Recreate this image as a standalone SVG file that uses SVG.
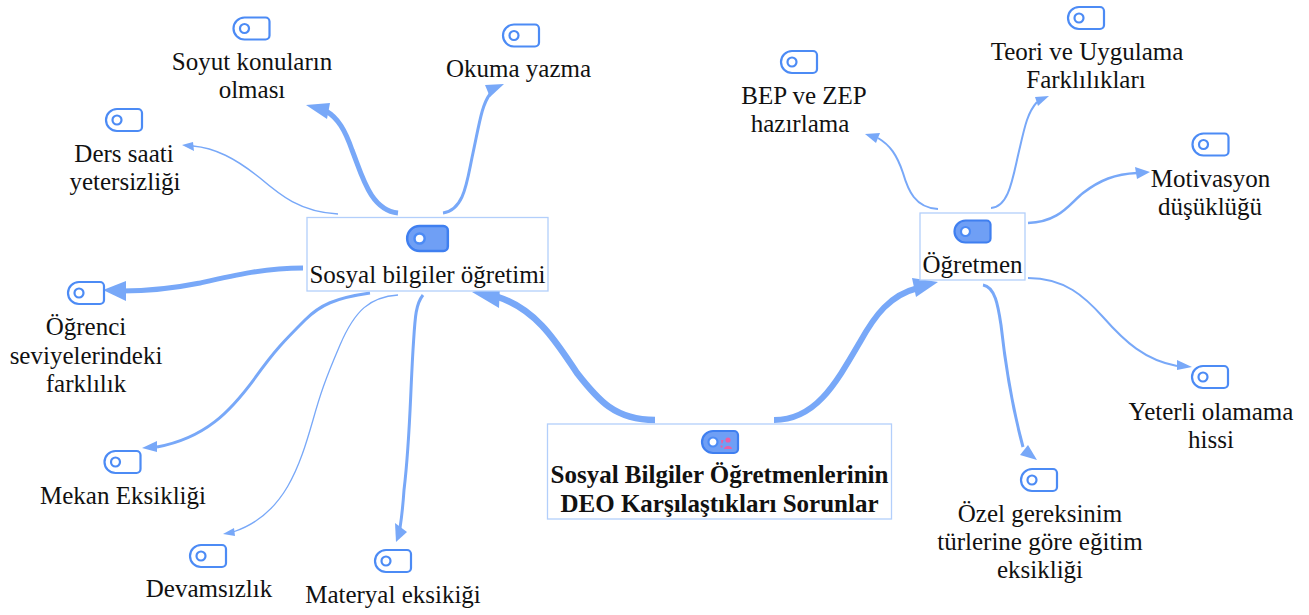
<svg xmlns="http://www.w3.org/2000/svg" width="1309" height="615" viewBox="0 0 1309 615">
<style>
text{font-family:"Liberation Serif","Times New Roman",serif;font-size:25px;fill:#111;text-anchor:middle}
.b{font-weight:700}
.box{fill:#fff;stroke:#b3cffb;stroke-width:1.3}
.c{fill:none;stroke:#78a8f8;stroke-linecap:butt}
.a{fill:#78a8f8}
.t{fill:#fff;stroke:#4c8bf5;stroke-width:2.2}
.tf{fill:#6f9ff5;stroke:#3f7ff0;stroke-width:2.2}
.h{fill:#fff;stroke:#4c8bf5;stroke-width:2.2}
.p{fill:#ec5fa5}
</style>
<defs>
<g id="tag"><path class="t" d="M-7-11H14a4 4 0 0 1 4 4V7a4 4 0 0 1-4 4H-7a11 11 0 0 1 0-22Z"/><circle class="h" cx="-7" cy="0" r="4.500"/></g>
<g id="tagf"><path class="tf" d="M-7-11H14a4 4 0 0 1 4 4V7a4 4 0 0 1-4 4H-7a11 11 0 0 1 0-22Z"/><circle class="h" stroke-width="1.5" cx="-7" cy="0" r="4.500"/></g>
</defs>
<g id="connectors">
<path class="c" stroke-width="6.500" d="M655 420C615 420 598 400 577 373C558 345 538 310 498 297"/><path class="a" d="M472 292L500 285L499 308Z"/>
<path class="c" stroke-width="6" d="M774 420C815 420 835 385 860 342C875 315 890 295 918 288"/><path class="a" d="M938 282L912 278L916 297Z"/>
<path class="c" stroke-width="5" d="M398 213C370 210 362 175 352 150C345 130 338 118 326 111"/><path class="a" d="M306 105L330 103L327 119Z"/>
<path class="c" stroke-width="3" d="M443 213C465 210 467 180 473 153C480 120 482 105 490 94"/><path class="a" d="M504 84L485 85L490 97Z"/>
<path class="c" stroke-width="1.500" d="M338 214C300 212 280 195 260 178C235 158 215 148 193 146"/><path class="a" d="M182 145L193 142L194 151Z"/>
<path class="c" stroke-width="5" d="M303 268C265 268 235 275 200 283C170 289 145 291 122 291"/><path class="a" d="M103 290L126 281L126 301Z"/>
<path class="c" stroke-width="3" d="M370 293C335 298 320 305 305 320C285 340 275 350 255 378C230 412 205 438 157 447"/><path class="a" d="M142 448L157 441L157 452Z"/>
<path class="c" stroke-width="1.300" d="M398 295C370 297 355 310 340 345C325 380 320 395 313 420C300 465 285 515 233 532"/><path class="a" d="M223 534L234 528L235 536Z"/>
<path class="c" stroke-width="3" d="M423 295C415 305 415 320 413 350C410 400 410 440 404 490C403 505 402 515 400 528"/><path class="a" d="M396 542L395 523L407 532Z"/>
<path class="c" stroke-width="2" d="M938 209C915 208 908 190 903 173C897 155 890 145 878 138"/><path class="a" d="M865 134L880 133L876 143Z"/>
<path class="c" stroke-width="2" d="M991 208C1010 207 1013 175 1020 147C1025 125 1028 112 1037 102"/><path class="a" d="M1049 96L1035 97L1038 106Z"/>
<path class="c" stroke-width="2.500" d="M1028 223C1060 222 1070 203 1083 193C1100 180 1115 174 1137 173"/><path class="a" d="M1150 172L1135 167L1137 179Z"/>
<path class="c" stroke-width="2" d="M1028 278C1065 278 1085 297 1103 317C1125 342 1145 360 1177 366"/><path class="a" d="M1192 367L1177 360L1177 370Z"/>
<path class="c" stroke-width="3" d="M983 285C995 287 998 305 1001 325C1006 370 1013 410 1023 447"/><path class="a" d="M1037 460L1020 455L1028 445Z"/>
</g>
<g id="root"><rect class="box" x="547.500" y="424" width="344" height="95"/><use href="#tagf" x="720" y="442"/><circle class="p" cx="728" cy="440" r="2.600"/><path class="p" d="M724 449C724 445 732 445 732 449ZM721 440H723.500L722.500 443.500H721.500ZM720.500 445.500H722.500V447.500H720.500Z"/><text class="b" x="719.500" y="483">Sosyal Bilgiler Öğretmenlerinin</text><text class="b" x="719.500" y="512">DEO Karşılaştıkları Sorunlar</text></g>
<g id="sosyal"><rect class="box" x="307" y="217.500" width="241" height="73.500"/><use href="#tagf" transform="translate(427.500 238.500) scale(1.13)"/><text x="427.500" y="283">Sosyal bilgiler öğretimi</text></g>
<g id="ogretmen"><rect class="box" x="920" y="213" width="105" height="67"/><use href="#tagf" x="972.500" y="231.500"/><text x="972.500" y="273">Öğretmen</text></g>
<g id="soyut"><use href="#tag" x="251.500" y="28.500"/><text x="252" y="70">Soyut konuların</text><text x="252" y="98">olması</text></g>
<g id="okuma"><use href="#tag" x="521" y="35.500"/><text x="518.500" y="77">Okuma yazma</text></g>
<g id="ders"><use href="#tag" x="124" y="120"/><text x="124" y="162">Ders saati</text><text x="125" y="190">yetersizliği</text></g>
<g id="ogrenci"><use href="#tag" x="86" y="293"/><text x="86" y="335">Öğrenci</text><text x="86" y="363.500">seviyelerindeki</text><text x="86" y="392">farklılık</text></g>
<g id="mekan"><use href="#tag" x="122.500" y="462"/><text x="123" y="504">Mekan Eksikliği</text></g>
<g id="devam"><use href="#tag" x="208" y="556"/><text x="209" y="597">Devamsızlık</text></g>
<g id="materyal"><use href="#tag" x="393" y="561"/><text x="393" y="603">Materyal eksikiği</text></g>
<g id="bep"><use href="#tag" x="799" y="62"/><text x="804" y="104">BEP ve ZEP</text><text x="800" y="132">hazırlama</text></g>
<g id="teori"><use href="#tag" x="1086" y="18"/><text x="1087" y="60">Teori ve Uygulama</text><text x="1086" y="88">Farklılıkları</text></g>
<g id="motivasyon"><use href="#tag" x="1210.500" y="144.500"/><text x="1210.500" y="187">Motivasyon</text><text x="1210" y="215">düşüklüğü</text></g>
<g id="yeterli"><use href="#tag" x="1210" y="377"/><text x="1211" y="420">Yeterli olamama</text><text x="1211" y="448">hissi</text></g>
<g id="ozel"><use href="#tag" x="1039" y="480"/><text x="1040" y="522">Özel gereksinim</text><text x="1040" y="550">türlerine göre eğitim</text><text x="1040" y="578">eksikliği</text></g>
</svg>
